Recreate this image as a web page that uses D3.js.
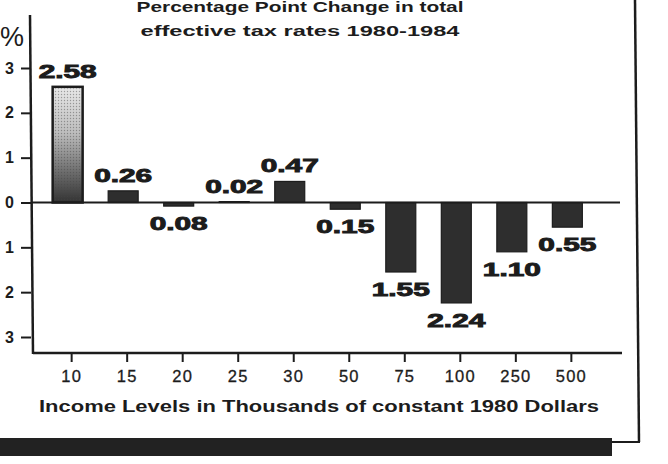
<!DOCTYPE html>
<html>
<head>
<meta charset="utf-8">
<script src="https://cdn.jsdelivr.net/npm/d3@7"></script>
<style>
  html, body { margin: 0; padding: 0; background: #ffffff; }
  svg { display: block; }
</style>
</head>
<body>
<script>
// ---- data ----
const categories = ["10", "15", "20", "25", "30", "50", "75", "100", "250", "500"];
const values = [2.58, 0.26, -0.08, 0.02, 0.47, -0.15, -1.55, -2.24, -1.10, -0.55];
const valueLabels = ["2.58", "0.26", "0.08", "0.02", "0.47", "0.15", "1.55", "2.24", "1.10", "0.55"];
const yTicks = [3, 2, 1, 0, -1, -2, -3];
const yTickLabels = ["3", "2", "1", "0", "1", "2", "3"];
const titleLines = ["Percentage Point Change in total", "effective tax rates  1980-1984"];
const xTitle = "Income Levels in Thousands of constant 1980 Dollars";
const unitLabel = "%";

// ---- layout ----
const W = 668, H = 464;
const ink = "#1c1c1c";
const font = "Liberation Sans, Arial, sans-serif";
const svg = d3.select("body").append("svg").attr("width", W).attr("height", H);

const x = d3.scaleBand().domain(categories).range([36, 599]).paddingInner(0.46).paddingOuter(0.3);
const y = d3.scaleLinear().domain([-3, 3]).range([337, 68]);

const defs = svg.append("defs");
const grad = defs.append("linearGradient").attr("id", "g1").attr("x1", 0).attr("y1", 0).attr("x2", 0).attr("y2", 1);
grad.append("stop").attr("offset", "0%").attr("stop-color", "#e8e8e8");
grad.append("stop").attr("offset", "40%").attr("stop-color", "#bdbdbd");
grad.append("stop").attr("offset", "75%").attr("stop-color", "#6a6a6a");
grad.append("stop").attr("offset", "100%").attr("stop-color", "#333333");
const pat = defs.append("pattern").attr("id", "dots").attr("width", 3).attr("height", 3).attr("patternUnits", "userSpaceOnUse");
pat.append("circle").attr("cx", 1.5).attr("cy", 1.5).attr("r", 0.7).attr("fill", "#444").attr("opacity", 0.45);

// border / frame
svg.append("line").attr("x1", 635).attr("y1", 0).attr("x2", 639).attr("y2", 442)
  .attr("stroke", ink).attr("stroke-width", 2.5);
svg.append("line").attr("x1", 600).attr("y1", 442).attr("x2", 640).attr("y2", 442)
  .attr("stroke", ink).attr("stroke-width", 2);
svg.append("rect").attr("x", 0).attr("y", 438).attr("width", 612).attr("height", 18).attr("fill", "#222");

// title
svg.selectAll("text.title").data(titleLines).join("text")
  .attr("class", "title")
  .attr("x", 300).attr("y", (d, i) => 12 + i * 24)
  .attr("text-anchor", "middle")
  .attr("font-family", font)
  .attr("font-weight", "bold").attr("font-size", 14.5)
  .attr("fill", ink)
  .attr("textLength", (d, i) => i === 0 ? 327 : 319)
  .attr("lengthAdjust", "spacingAndGlyphs")
  .text(d => d);

// % unit
svg.append("text").attr("x", 0).attr("y", 46)
  .attr("font-family", font)
  .attr("font-size", 27).attr("fill", ink).text(unitLabel);

// bars
const bars = svg.append("g");
bars.selectAll("rect.bar").data(values).join("rect")
  .attr("class", "bar")
  .attr("x", (d, i) => x(categories[i]))
  .attr("width", x.bandwidth())
  .attr("y", d => y(Math.max(0, d)))
  .attr("height", d => Math.abs(y(d) - y(0)))
  .attr("fill", (d, i) => i === 0 ? "url(#g1)" : "#2e2e2e")
  .attr("stroke", ink).attr("stroke-width", (d, i) => i === 0 ? 2.5 : 1.2);
// stipple overlay on the first (shaded) bar
bars.selectAll("rect.stip").data(values.slice(0, 1)).join("rect")
  .attr("class", "stip")
  .attr("x", x(categories[0]) + 1.5)
  .attr("width", x.bandwidth() - 3)
  .attr("y", d => y(Math.max(0, d)) + 1.5)
  .attr("height", d => Math.abs(y(d) - y(0)) - 3)
  .attr("fill", "url(#dots)");

// zero line
svg.append("line").attr("x1", 31).attr("x2", 620).attr("y1", y(0)).attr("y2", y(0))
  .attr("stroke", ink).attr("stroke-width", 2);

// y axis
svg.append("line").attr("x1", 30).attr("y1", 15).attr("x2", 33).attr("y2", 354)
  .attr("stroke", ink).attr("stroke-width", 2.5);
const yAxis = d3.axisLeft(y).tickValues(yTicks).tickFormat((d, i) => yTickLabels[i]).tickSize(10).tickPadding(7);
const gy = svg.append("g").attr("transform", "translate(31,0)").call(yAxis);
gy.select(".domain").remove();
gy.selectAll(".tick line").attr("stroke", ink).attr("stroke-width", 2);
gy.selectAll(".tick text").attr("font-family", font)
  .attr("font-size", 16).attr("font-weight", "bold").attr("fill", ink);

// x axis
svg.append("line").attr("x1", 33).attr("x2", 622).attr("y1", 353).attr("y2", 353)
  .attr("stroke", ink).attr("stroke-width", 2.5);
const xAxis = d3.axisBottom(x).tickSize(9).tickPadding(8);
const gx = svg.append("g").attr("transform", "translate(4,353)").call(xAxis);
gx.select(".domain").remove();
gx.selectAll(".tick line").attr("stroke", ink).attr("stroke-width", 2);
gx.selectAll(".tick text").attr("font-family", font)
  .attr("font-size", 16.5).attr("fill", ink).attr("letter-spacing", 1.2)
  .attr("stroke", ink).attr("stroke-width", 0.3);

// x title
svg.append("text").attr("x", 319).attr("y", 412)
  .attr("text-anchor", "middle")
  .attr("font-family", font)
  .attr("font-weight", "bold").attr("font-size", 16)
  .attr("fill", ink)
  .attr("textLength", 560).attr("lengthAdjust", "spacingAndGlyphs")
  .text(xTitle);

// value labels
svg.selectAll("text.val").data(values).join("text")
  .attr("class", "val")
  .attr("x", (d, i) => x(categories[i]) + x.bandwidth() / 2)
  .attr("y", d => d >= 0 ? y(d) - 9 : y(d) + 24)
  .attr("text-anchor", "middle")
  .attr("font-family", font)
  .attr("font-weight", "bold").attr("font-size", 18)
  .attr("fill", ink).attr("stroke", ink).attr("stroke-width", 0.9)
  .attr("textLength", 58).attr("lengthAdjust", "spacingAndGlyphs")
  .text((d, i) => valueLabels[i]);
</script>
</body>
</html>
